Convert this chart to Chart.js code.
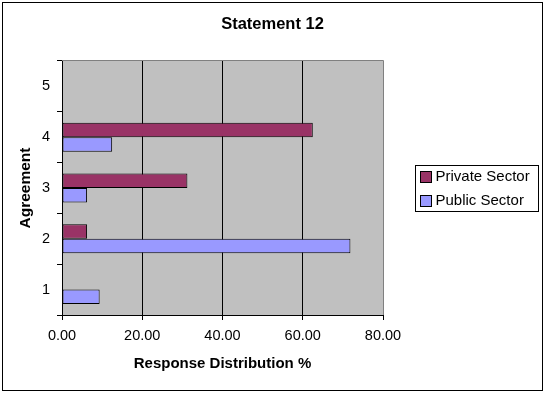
<!DOCTYPE html>
<html>
<head>
<meta charset="utf-8">
<script src="https://cdn.jsdelivr.net/npm/chart.js@4.4.1/dist/chart.umd.min.js"></script>
<style>
  html, body { margin: 0; padding: 0; background: #fff; }
  canvas { display: block; }
</style>
</head>
<body>
<canvas id="statementChart" width="548" height="394"></canvas>
<script>
// agreement levels (bottom to top) and % of respondents per sector
const categories = ["1", "2", "3", "4", "5"];
const privateSector = [0, 6.25, 31.25, 62.5, 0];
const publicSector = [9.38, 71.88, 6.25, 12.5, 0];
const seriesNames = ["Private Sector", "Public Sector"];
const seriesColors = ["#993366", "#9999ff"];
const xMax = 80;
const xStep = 20;

const FONT = "'Liberation Sans', Arial, sans-serif";

// grey plot background, plot frame, outer frame and the boxed legend
const chartDecor = {
  id: "chartDecor",
  beforeDraw(chart) {
    const { ctx, chartArea: a } = chart;
    ctx.save();
    ctx.fillStyle = "#fff";
    ctx.fillRect(0, 0, chart.width, chart.height);
    ctx.fillStyle = "#c0c0c0";
    ctx.fillRect(a.left, a.top, a.right - a.left, a.bottom - a.top);
    ctx.restore();
  },
  afterDraw(chart) {
    const { ctx, chartArea: a } = chart;
    ctx.save();
    ctx.lineWidth = 1;

    // top / right edge of the plot area
    ctx.strokeStyle = "#808080";
    ctx.beginPath();
    ctx.moveTo(a.left, a.top - 0.5);
    ctx.lineTo(a.right + 0.5, a.top - 0.5);
    ctx.lineTo(a.right + 0.5, a.bottom);
    ctx.stroke();

    // outer frame
    ctx.strokeStyle = "#000";
    ctx.strokeRect(2.5, 2.5, 540, 388);

    // legend
    const lx = Math.round(a.right) + 32.5;
    const ly = 165.5;
    ctx.strokeRect(lx, ly, 123, 46);
    ctx.font = "15px " + FONT;
    ctx.textBaseline = "middle";
    ctx.textAlign = "left";
    chart.data.datasets.forEach((ds, i) => {
      const cy = 177 + i * 24;
      ctx.fillStyle = ds.backgroundColor;
      ctx.fillRect(lx + 5, cy - 5.5, 11, 11);
      ctx.strokeStyle = "#000";
      ctx.strokeRect(lx + 5, cy - 5.5, 11, 11);
      ctx.fillStyle = "#000";
      ctx.fillText(ds.label, lx + 20, cy);
    });
    ctx.restore();
  }
};

new Chart(document.getElementById("statementChart"), {
  type: "bar",
  data: {
    labels: categories,
    datasets: [
      {
        label: seriesNames[0],
        data: privateSector,
        backgroundColor: seriesColors[0],
        borderColor: "#000",
        borderWidth: 1,
        borderSkipped: false
      },
      {
        label: seriesNames[1],
        data: publicSector,
        backgroundColor: seriesColors[1],
        borderColor: "#000",
        borderWidth: 1,
        borderSkipped: false
      }
    ]
  },
  options: {
    indexAxis: "y",
    responsive: false,
    animation: false,
    devicePixelRatio: 1,
    categoryPercentage: 0.57,
    barPercentage: 1,
    layout: { padding: { left: 0, right: 3, top: 0, bottom: 0 } },
    plugins: {
      legend: { display: false },
      tooltip: { enabled: false },
      title: {
        display: true,
        text: "Statement 12",
        color: "#000",
        font: { family: FONT, size: 16.5, weight: "bold" },
        padding: { top: 15, bottom: 26.2 }
      }
    },
    scales: {
      x: {
        type: "linear",
        position: "bottom",
        min: 0,
        max: xMax,
        ticks: {
          stepSize: xStep,
          color: "#000",
          font: { family: FONT, size: 14.5 },
          padding: 7,
          callback: (v) => v.toFixed(2)
        },
        grid: { color: "#000", tickColor: "#000", tickLength: 5 },
        border: { color: "#000" },
        title: {
          display: true,
          text: "Response Distribution %",
          color: "#000",
          font: { family: FONT, size: 15, weight: "bold" },
          padding: { top: 0, bottom: 21 }
        },
        afterFit: (s) => { s.height = 79; }
      },
      y: {
        type: "category",
        position: "left",
        reverse: true,
        offset: true,
        ticks: { color: "#000", font: { family: FONT, size: 14.5 }, padding: 7 },
        grid: { drawOnChartArea: false, offset: true, color: "#000", tickLength: 5 },
        border: { color: "#000" },
        title: {
          display: true,
          text: "Agreement",
          color: "#000",
          font: { family: FONT, size: 15.5, weight: "bold" },
          padding: { top: 16, bottom: 0 }
        },
        afterFit: (s) => { s.width = 62; }
      },
      // empty column that keeps room for the legend on the right
      spacer: {
        type: "linear",
        position: "right",
        display: true,
        ticks: { display: false },
        grid: { display: false },
        border: { display: false },
        afterFit: (s) => { s.width = 162; }
      }
    }
  },
  plugins: [chartDecor]
});
</script>
</body>
</html>
